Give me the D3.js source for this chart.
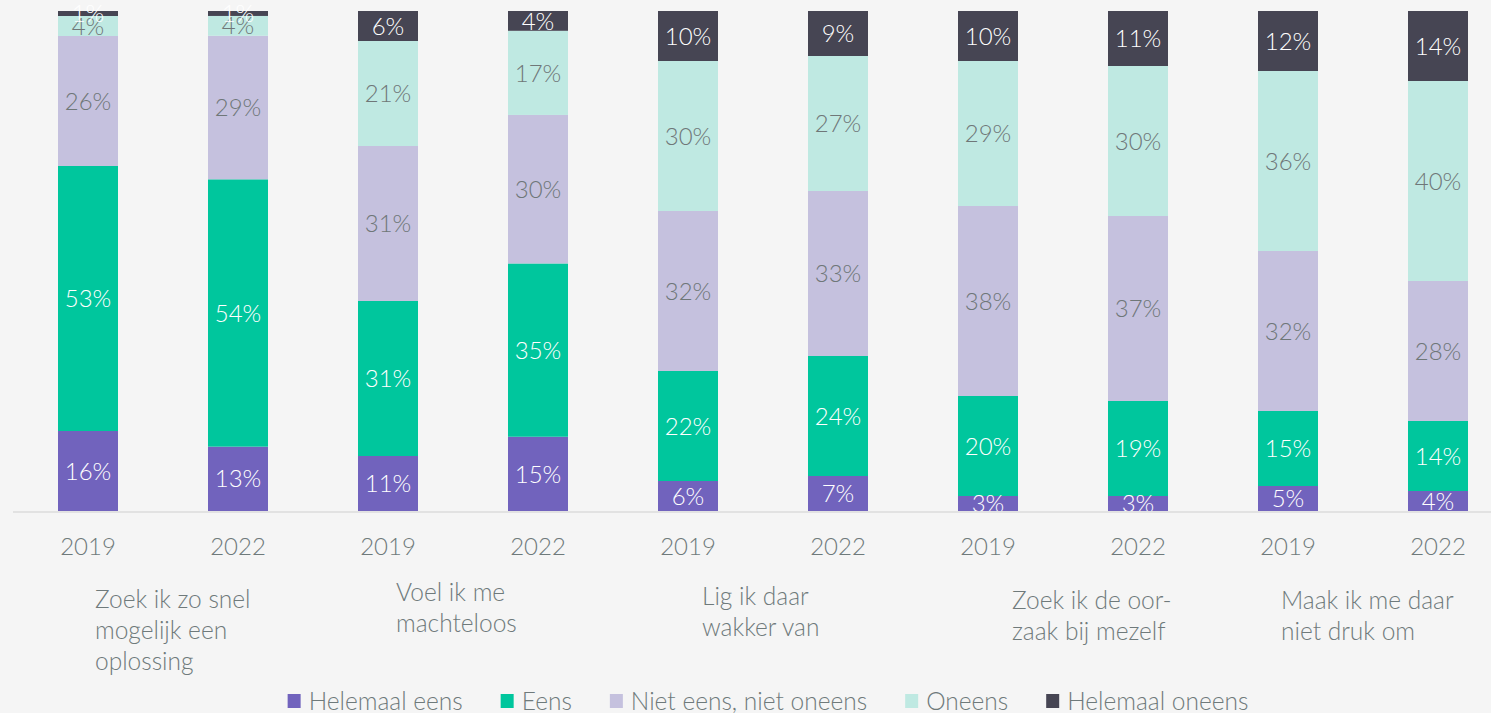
<!DOCTYPE html>
<html>
<head>
<meta charset="utf-8">
<script src="https://cdn.jsdelivr.net/npm/d3@7"></script>
<style>
  body { margin: 0; background: #f5f5f5; }
  svg { display: block; font-family: Lato, "Open Sans", sans-serif; }
</style>
</head>
<body>
<script>
'use strict';

var width = 1491,
    height = 713;

// categories (each one has a 2019 and a 2022 bar)
var categories = [
  ["Zoek ik zo snel", "mogelijk een", "oplossing"],
  ["Voel ik me", "machteloos"],
  ["Lig ik daar", "wakker van"],
  ["Zoek ik de oor-", "zaak bij mezelf"],
  ["Maak ik me daar", "niet druk om"]
];
var years = ["2019", "2022"];

var seriesNames = ["Helemaal eens", "Eens", "Niet eens, niet oneens", "Oneens", "Helemaal oneens"];
var seriesColors = ["#7163bd", "#00c69d", "#c5c1de", "#bfe9e2", "#464553"];
var labelColors = ["#ffffff", "#ffffff", "#6f7778", "#6f7778", "#ffffff"];

// values per series, order: cat1 2019, cat1 2022, cat2 2019, ...
var helemaalEens   = [16, 13, 11, 15,  6,  7,  3,  3,  5,  4];
var eens           = [53, 54, 31, 35, 22, 24, 20, 19, 15, 14];
var nietEensOneens = [26, 29, 31, 30, 32, 33, 38, 37, 32, 28];
var oneens         = [ 4,  4, 21, 17, 30, 27, 29, 30, 36, 40];
var helemaalOneens = [ 1,  1,  6,  4, 10,  9, 10, 11, 12, 14];

// layout of the category captions (left aligned text blocks)
var captionX = [95, 396, 702, 1012, 1281];
var captionY = [608, 601, 605, 609, 609];

var seriesValues = [helemaalEens, eens, nietEensOneens, oneens, helemaalOneens];

var rows = [];
categories.forEach(function(c, ci) {
  years.forEach(function(y, yi) {
    var i = ci * 2 + yi;
    var row = { id: i, year: y };
    seriesNames.forEach(function(s, si) { row[s] = seriesValues[si][i]; });
    rows.push(row);
  });
});

var svg = d3.select("body").append("svg")
    .attr("width", width)
    .attr("height", height);

svg.append("rect")
    .attr("width", width)
    .attr("height", height)
    .attr("fill", "#f5f5f5");

var x = d3.scaleBand()
    .domain(rows.map(function(d) { return d.id; }))
    .range([13, 1513])
    .paddingInner(0.6)
    .paddingOuter(0.3);

var y = d3.scaleLinear()
    .domain([0, 1])
    .range([511, 11]);

var stack = d3.stack()
    .keys(seriesNames)
    .offset(d3.stackOffsetExpand);

var layers = stack(rows);

svg.append("defs").append("clipPath")
    .attr("id", "plotclip")
  .append("rect")
    .attr("x", 0)
    .attr("y", -50)
    .attr("width", width)
    .attr("height", 561);

// baseline
svg.append("line")
    .attr("x1", 13)
    .attr("x2", width)
    .attr("y1", 512)
    .attr("y2", 512)
    .attr("stroke", "#e2e2e2")
    .attr("stroke-width", 2);

var layer = svg.append("g")
    .attr("class", "layers")
    .selectAll("g")
    .data(layers)
    .enter().append("g")
        .attr("fill", function(d, i) { return seriesColors[i]; });

layer.selectAll("rect")
    .data(function(d) { return d; })
    .enter().append("rect")
        .attr("x", function(d) { return x(d.data.id); })
        .attr("width", x.bandwidth())
        .attr("y", function(d) { return y(d[1]); })
        .attr("height", function(d) { return y(d[0]) - y(d[1]); });

var labels = svg.append("g")
    .attr("clip-path", "url(#plotclip)");

layers.forEach(function(l, li) {
  labels.selectAll(".lbl" + li)
      .data(l)
      .enter().append("text")
          .attr("class", "lbl" + li)
          .attr("x", function(d) { return x(d.data.id) + x.bandwidth() / 2; })
          .attr("y", function(d) { return (y(d[0]) + y(d[1])) / 2; })
          .attr("dy", "0.36em")
          .attr("text-anchor", "middle")
          .attr("fill", labelColors[li])
          .style("font-size", "24px")
          .style("font-weight", 300)
          .text(function(d) { return d.data[l.key] + "%"; });
});

// year labels
svg.append("g")
    .selectAll("text")
    .data(rows)
    .enter().append("text")
        .attr("x", function(d) { return x(d.id) + x.bandwidth() / 2; })
        .attr("y", 555)
        .attr("text-anchor", "middle")
        .attr("fill", "#6f7a7b")
        .style("font-size", "24px")
        .style("font-weight", 300)
        .text(function(d) { return d.year; });

// category captions
var caption = svg.append("g")
    .selectAll("text")
    .data(categories)
    .enter().append("text")
        .attr("x", function(d, i) { return captionX[i]; })
        .attr("y", function(d, i) { return captionY[i]; })
        .attr("fill", "#6f7a7b")
        .style("font-size", "24.5px")
        .style("font-weight", 300);

caption.selectAll("tspan")
    .data(function(d, i) { return d.map(function(t) { return { t: t, i: i }; }); })
    .enter().append("tspan")
        .attr("x", function(d) { return captionX[d.i]; })
        .attr("dy", function(d, j) { return j === 0 ? 0 : 31; })
        .text(function(d) { return d.t; });

// legend
var legend = svg.append("g");
var lx = 0;
seriesNames.forEach(function(name, i) {
  var item = legend.append("g").attr("transform", "translate(" + lx + ",0)");
  item.append("rect")
      .attr("x", 0)
      .attr("y", -7)
      .attr("width", 13)
      .attr("height", 14)
      .attr("fill", seriesColors[i]);
  var t = item.append("text")
      .attr("x", 21)
      .attr("dy", "0.36em")
      .attr("fill", "#6f7a7b")
      .style("font-size", "24.5px")
      .style("font-weight", 300)
      .text(name);
  lx += 21 + t.node().getComputedTextLength() + 38;
});
lx -= 38;
legend.attr("transform", "translate(" + (768 - lx / 2) + ",701)");
</script>
</body>
</html>
